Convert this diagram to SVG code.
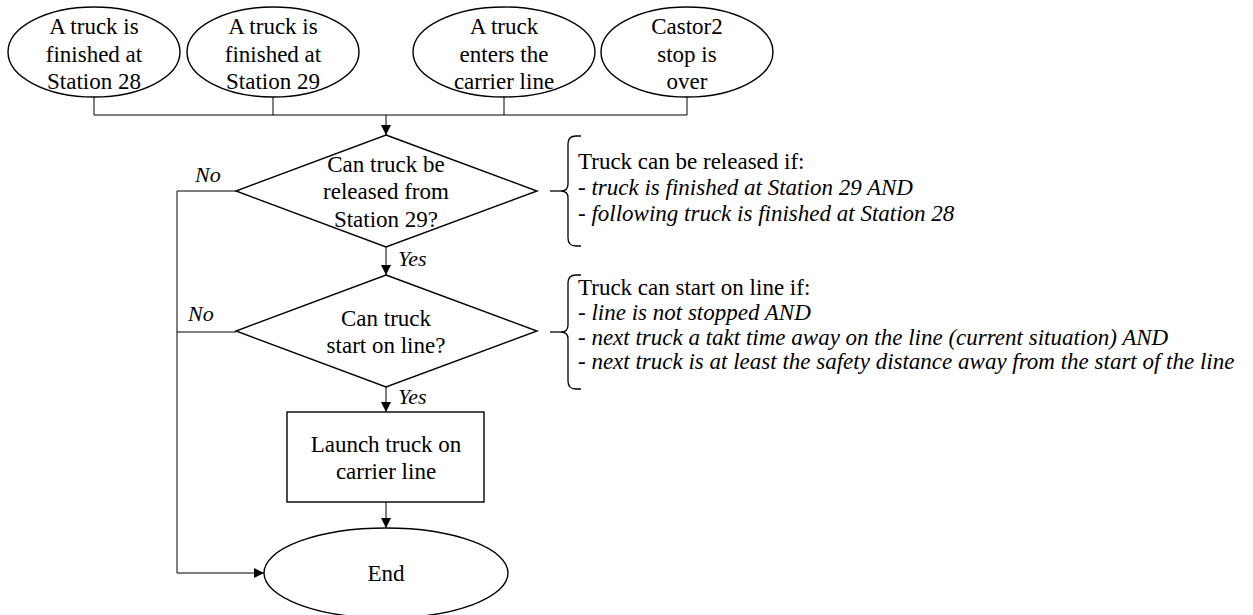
<svg xmlns="http://www.w3.org/2000/svg" width="1253" height="615" viewBox="0 0 1253 615">
  <style>
    .shape { fill: #fff; stroke: #000; stroke-width: 1.4; }
    .conn { fill: none; stroke: #000; stroke-width: 1; }
    .brace { fill: none; stroke: #000; stroke-width: 1.3; }
    text { font-family: "Liberation Serif", "Times New Roman", serif; fill: #000; }
    .t { font-size: 23px; text-anchor: middle; }
    .lbl { font-size: 22px; font-style: italic; }
    .note { font-size: 23px; }
    .i { font-style: italic; }
  </style>
  <defs>
    <marker id="arrow" viewBox="0 0 10 10" refX="10" refY="5" markerWidth="10" markerHeight="10" markerUnits="userSpaceOnUse" orient="auto">
      <path d="M0,0 L10,5 L0,10 Z" fill="#000"/>
    </marker>
  </defs>

  <rect width="1253" height="615" fill="#fff"/>

  <!-- connectors -->
  <g id="connectors">
    <polyline class="conn" points="94,97 94,115 687,115 687,97"/>
    <line class="conn" x1="273" y1="97" x2="273" y2="115"/>
    <line class="conn" x1="504" y1="97" x2="504" y2="115"/>
    <line class="conn" x1="386" y1="115" x2="386" y2="135" marker-end="url(#arrow)"/>
    <line class="conn" x1="386" y1="247" x2="386" y2="275" marker-end="url(#arrow)"/>
    <line class="conn" x1="386" y1="387" x2="386" y2="412" marker-end="url(#arrow)"/>
    <line class="conn" x1="386" y1="502" x2="386" y2="528" marker-end="url(#arrow)"/>
    <polyline class="conn" points="236,191 177,191 177,573 264,573" marker-end="url(#arrow)"/>
    <line class="conn" x1="236" y1="332" x2="177" y2="332"/>
    <text class="lbl" x="195" y="182">No</text>
    <text class="lbl" x="188" y="321">No</text>
    <text class="lbl" x="398" y="266">Yes</text>
    <text class="lbl" x="398" y="404">Yes</text>
  </g>

  <!-- start events -->
  <g id="ev-st28">
    <ellipse class="shape" cx="94" cy="52" rx="86" ry="45"/>
    <text class="t" x="94" y="34">A truck is</text>
    <text class="t" x="94" y="62">finished at</text>
    <text class="t" x="94" y="89">Station 28</text>
  </g>
  <g id="ev-st29">
    <ellipse class="shape" cx="273" cy="52" rx="86" ry="45"/>
    <text class="t" x="273" y="34">A truck is</text>
    <text class="t" x="273" y="62">finished at</text>
    <text class="t" x="273" y="89">Station 29</text>
  </g>
  <g id="ev-enter">
    <ellipse class="shape" cx="504" cy="52" rx="91" ry="45"/>
    <text class="t" x="504" y="34">A truck</text>
    <text class="t" x="504" y="62">enters the</text>
    <text class="t" x="504" y="89">carrier line</text>
  </g>
  <g id="ev-castor">
    <ellipse class="shape" cx="687" cy="52" rx="86" ry="45"/>
    <text class="t" x="687" y="34">Castor2</text>
    <text class="t" x="687" y="62">stop is</text>
    <text class="t" x="687" y="89">over</text>
  </g>

  <!-- decision: release from station 29 -->
  <g id="dec-release">
    <polygon class="shape" points="386,135 537,191 386,247 236,191"/>
    <text class="t" x="386" y="172">Can truck be</text>
    <text class="t" x="386" y="199">released from</text>
    <text class="t" x="386" y="227">Station 29?</text>
  </g>

  <!-- decision: start on line -->
  <g id="dec-start">
    <polygon class="shape" points="386,275 537,331 386,387 236,331"/>
    <text class="t" x="386" y="326">Can truck</text>
    <text class="t" x="386" y="353">start on line?</text>
  </g>

  <!-- action -->
  <g id="act-launch">
    <rect class="shape" x="287" y="412" width="197" height="90"/>
    <text class="t" x="386" y="452">Launch truck on</text>
    <text class="t" x="386" y="479">carrier line</text>
  </g>

  <!-- end -->
  <g id="end">
    <ellipse class="shape" cx="386" cy="573" rx="122" ry="45"/>
    <text class="t" x="386" y="581">End</text>
  </g>

  <!-- condition notes -->
  <g id="note-release">
    <path class="brace" d="M581,136 L576,136 Q568,136 568,144 L568,184 Q568,191 561,191 Q568,191 568,198 L568,238 Q568,246 576,246 L581,246"/>
    <line class="brace" x1="550" y1="191" x2="561" y2="191"/>
    <text class="note" x="578" y="169">Truck can be released if:</text>
    <text class="note i" x="578" y="195">- truck is finished at Station 29 AND</text>
    <text class="note i" x="578" y="221">- following truck is finished at Station 28</text>
  </g>
  <g id="note-start">
    <path class="brace" d="M581,275 L576,275 Q568,275 568,283 L568,325 Q568,332 561,332 Q568,332 568,339 L568,381 Q568,389 576,389 L581,389"/>
    <line class="brace" x1="550" y1="332" x2="561" y2="332"/>
    <text class="note" x="578" y="295">Truck can start on line if:</text>
    <text class="note i" x="578" y="320">- line is not stopped AND</text>
    <text class="note i" x="578" y="345">- next truck a takt time away on the line (current situation) AND</text>
    <text class="note i" x="578" y="369">- next truck is at least the safety distance away from the start of the line</text>
  </g>
</svg>
